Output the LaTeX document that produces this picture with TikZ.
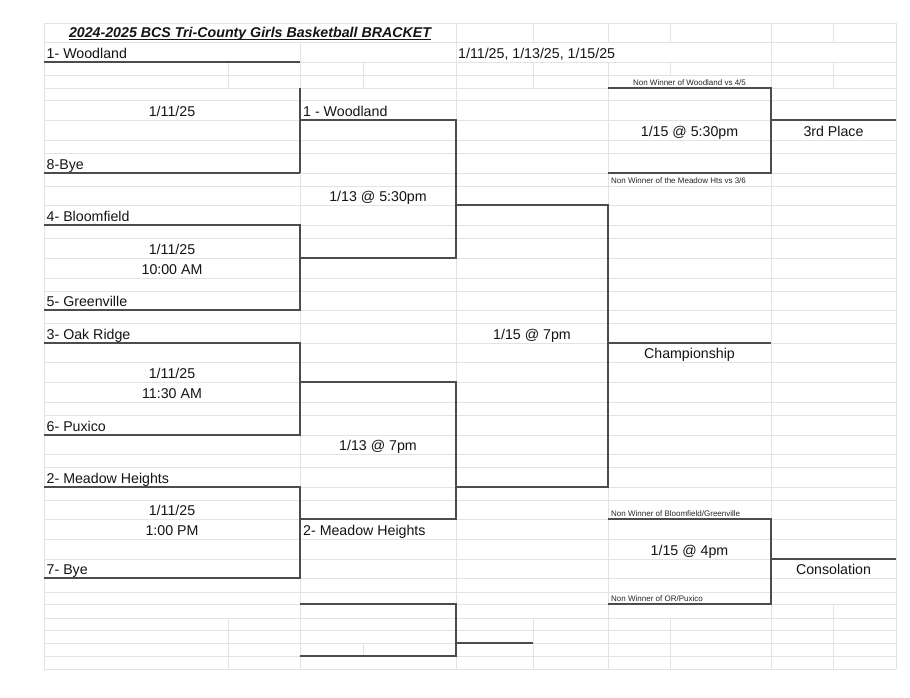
\documentclass[tikz,border=0pt]{standalone}
\usepackage{fontspec}
\setmainfont{Liberation Sans}
\begin{document}
\begin{tikzpicture}[x=1pt,y=-1pt,
  gridline/.style={draw=black!11, line width=0.7pt},
  bk/.style={draw=black!70, line width=1.1pt},
  lbl/.style={inner sep=0pt, anchor=base west, font=\fontsize{14.2}{16}\selectfont, text=black!92},
  clbl/.style={inner sep=0pt, anchor=base, font=\fontsize{14.2}{16}\selectfont, text=black!92},
  sml/.style={inner sep=0pt, anchor=base west, font=\fontsize{8}{9}\selectfont, text=black!85},
  csml/.style={sml, anchor=base},
]
\fill[white] (0,0) rectangle (910,698);
\useasboundingbox (0,0) rectangle (910,698);

% horizontal grid lines
\foreach \y in {23,42,62,75,88,100,120,140,153,173,186,205,225,238,258,278,291,310,323,343,362,382,402,415,435,454,467,487,500,519,539,559,578,592,604,618,630,643,656,669}
  \draw[gridline] (44,\y) -- (896,\y);

% vertical grid lines
\draw[gridline] (44,23) -- (44,669);
\draw[gridline] (896,23) -- (896,669);
\draw[gridline] (228,62) -- (228,88);
\draw[gridline] (228,618) -- (228,669);
\draw[gridline] (300,42) -- (300,669);
\draw[gridline] (363,62) -- (363,88);
\draw[gridline] (363,643) -- (363,656);
\draw[gridline] (456,23) -- (456,669);
\draw[gridline] (533,23) -- (533,42);
\draw[gridline] (533,62) -- (533,88);
\draw[gridline] (533,618) -- (533,669);
\draw[gridline] (608,23) -- (608,42);
\draw[gridline] (608,62) -- (608,669);
\draw[gridline] (670,23) -- (670,42);
\draw[gridline] (670,62) -- (670,75);
\draw[gridline] (670,618) -- (670,669);
\draw[gridline] (771,23) -- (771,669);
\draw[gridline] (833,23) -- (833,42);
\draw[gridline] (833,62) -- (833,88);
\draw[gridline] (833,604) -- (833,669);

% bracket lines - round 1
\draw[bk] (44,62) -- (300,62);
\draw[bk] (300,88) -- (300,173);
\draw[bk] (44,173) -- (300,173);
\draw[bk] (44,225) -- (300,225) -- (300,310) -- (44,310);
\draw[bk] (44,343) -- (300,343) -- (300,435) -- (44,435);
\draw[bk] (44,487) -- (300,487) -- (300,578) -- (44,578);
% round 2
\draw[bk] (300,120) -- (456,120) -- (456,258) -- (300,258);
\draw[bk] (300,382) -- (456,382) -- (456,519) -- (300,519);
\draw[bk] (300,604) -- (456,604) -- (456,656) -- (300,656);
\draw[bk] (456,643) -- (533,643);
% round 3
\draw[bk] (456,205) -- (608,205) -- (608,487) -- (456,487);
\draw[bk] (608,343) -- (771,343);
% 3rd place
\draw[bk] (608,88) -- (771,88) -- (771,173) -- (608,173);
\draw[bk] (771,120) -- (896,120);
% consolation
\draw[bk] (608,519) -- (771,519) -- (771,604) -- (608,604);
\draw[bk] (771,559) -- (896,559);

% title
\node[clbl] (title) at (250,38) {\bfseries\itshape 2024-2025 BCS Tri-County Girls Basketball BRACKET};
\draw[black!90, line width=0.9pt] ([yshift=-1.6pt]title.base west) -- ([yshift=-1.6pt]title.base east);

% texts
\node[lbl] (t1) at (46.5,58.2) {1- Woodland};
\node[lbl] (dates) at (458,58.2) {1/11/25, 1/13/25, 1/15/25};
\node[clbl] (d1) at (172,116.2) {1/11/25};
\node[lbl] (w1) at (303,116.2) {1 - Woodland};
\node[lbl] (t8) at (46.5,169.2) {8-Bye};
\node[clbl] (r2a) at (378,201.2) {1/13 @ 5:30pm};
\node[lbl] (t4) at (46.5,221.2) {4- Bloomfield};
\node[clbl] (d2) at (172,254.2) {1/11/25};
\node[clbl] (tm2) at (172,274.2) {10:00 AM};
\node[lbl] (t5) at (46.5,306.2) {5- Greenville};
\node[lbl] (t3) at (46.5,339.2) {3- Oak Ridge};
\node[clbl] (fin) at (532,339.2) {1/15 @ 7pm};
\node[clbl] (champ) at (689.5,358.4) {Championship};
\node[clbl] (d3) at (172,378.2) {1/11/25};
\node[clbl] (tm3) at (172,398.2) {11:30 AM};
\node[lbl] (t6) at (46.5,431.2) {6- Puxico};
\node[clbl] (r2b) at (378,450.2) {1/13 @ 7pm};
\node[lbl] (t2) at (46.5,483.2) {2- Meadow Heights};
\node[clbl] (d4) at (172,515.2) {1/11/25};
\node[clbl] (tm4) at (172,535.2) {1:00 PM};
\node[lbl] (mh) at (303,535.2) {2- Meadow Heights};
\node[lbl] (t7) at (46.5,574.2) {7- Bye};

\node[csml] (nw1) at (689.5,85.5) {Non Winner of Woodland vs 4/5};
\node[clbl] (thirdgame) at (689.5,136.2) {1/15 @ 5:30pm};
\node[clbl] (third) at (833.5,136.2) {3rd Place};
\node[sml] (nw2) at (611,183.4) {Non Winner of the Meadow Hts vs 3/6};
\node[sml] (nw3) at (611,516.3) {Non Winner of Bloomfield/Greenville};
\node[clbl] (consgame) at (689.5,555.2) {1/15 @ 4pm};
\node[clbl] (cons) at (833.5,574.2) {Consolation};
\node[sml] (nw4) at (611,601) {Non Winner of OR/Puxico};
\end{tikzpicture}
\end{document}
